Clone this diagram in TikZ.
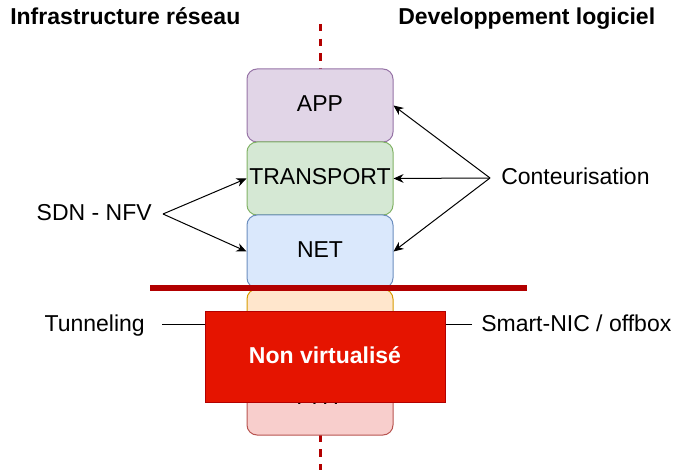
\documentclass[tikz,border=0pt]{standalone}
\usepackage{fontspec}
\setmainfont{Liberation Sans}
\usetikzlibrary{arrows.meta}
\definecolor{appfill}{HTML}{E1D5E7}\definecolor{appline}{HTML}{9673A6}
\definecolor{trfill}{HTML}{D5E8D4}\definecolor{trline}{HTML}{82B366}
\definecolor{netfill}{HTML}{DAE8FC}\definecolor{netline}{HTML}{6C8EBF}
\definecolor{orfill}{HTML}{FFE6CC}\definecolor{orline}{HTML}{D79B00}
\definecolor{pkfill}{HTML}{F8CECC}\definecolor{pkline}{HTML}{B85450}
\definecolor{redfill}{HTML}{E51400}\definecolor{redline}{HTML}{B20000}
\begin{document}
\begin{tikzpicture}[x=0.75pt,y=-0.75pt,
  font=\fontsize{17.25}{20}\selectfont,
  layer/.style={draw, rounded corners=7.5pt, minimum width=109.5pt, minimum height=54.75pt,
    inner sep=0pt, line width=0.75pt, text height=0.96em, text depth=0pt},
  lbl/.style={inner ysep=0pt, text height=0.96em, text depth=0pt},
  arr/.style={-{Stealth[length=7.5pt,width=6.5pt]}, line width=0.75pt},
  divider/.style={draw=redline, line width=2.25pt, dash pattern=on 5.6pt off 5.4pt},
  bar/.style={draw=redline, line width=4.5pt},
  plain/.style={line width=0.75pt}]
\useasboundingbox (0,0) rectangle (675,470);

% vertical dashed divider
\coordinate (dtop) at (320,24);
\coordinate (dbot) at (320,472);
\draw[divider] (dtop) -- (dbot);

% layers
\node[layer, fill=appfill, draw=appline] (app) at (320,105.5) {APP};
\node[layer, fill=trfill, draw=trline] (tr) at (320,178.5) {TRANSPORT};
\node[layer, fill=netfill, draw=netline] (net) at (320,251.5) {NET};
\node[layer, fill=orfill, draw=orline] (link) at (320,325.5) {};
\node[layer, fill=pkfill, draw=pkline] (phy) at (320,398.5) {PHY};

% horizontal red bar
\coordinate (bl) at (150,288.5);
\coordinate (br) at (527,288.5);
\draw[bar] (bl) -- (br);

% non virtualised block
\node[draw=redline, fill=redfill, line width=0.75pt, minimum width=180pt, minimum height=67.5pt,
  inner sep=0pt, text=white, font=\fontsize{17.25}{20}\selectfont\bfseries,
  text height=0.96em, text depth=0pt] (nv) at (325,357) {Non virtualisé};

% titles
\node[lbl, anchor=west, inner xsep=0pt, font=\fontsize{17.25}{20}\selectfont\bfseries] (t1) at (10,18) {Infrastructure réseau};
\node[lbl, anchor=west, inner xsep=0pt, font=\fontsize{17.25}{20}\selectfont\bfseries] (t2) at (398,18) {Developpement logiciel};

% side labels
\node[lbl, anchor=west, inner xsep=8.25pt] (cont) at (490,178) {Conteurisation};
\node[lbl, anchor=east, inner xsep=8.25pt] (sdn) at (163,214) {SDN - NFV};
\node[lbl, anchor=east, inner xsep=12.75pt] (tun) at (162,325) {Tunneling};
\node[lbl, anchor=west, inner xsep=6.75pt] (smart) at (472,325) {Smart-NIC / offbox};

% arrows
\draw[arr] (cont.west) -- (app.east);
\draw[arr] (cont.west) -- (tr.east);
\draw[arr] (cont.west) -- (net.east);
\draw[arr] (sdn.east) -- (tr.west);
\draw[arr] (sdn.east) -- (net.west);

% plain connectors
\draw[plain] (tun.east) -- (tun.east -| nv.west);
\draw[plain] (smart.west) -- (smart.west -| nv.east);
\end{tikzpicture}
\end{document}
